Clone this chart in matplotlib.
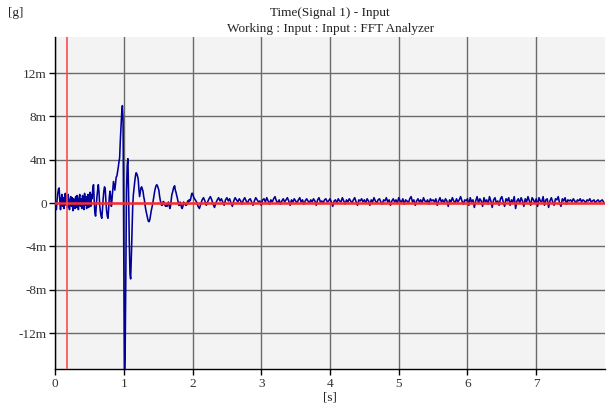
import numpy as np
import matplotlib
matplotlib.use("Agg")
import matplotlib.pyplot as plt
from matplotlib.ticker import FuncFormatter

plt.rcParams['font.family'] = ['Liberation Serif', 'DejaVu Serif']
plt.rcParams['axes.unicode_minus'] = False

title1 = "Time(Signal 1) - Input"
title2 = "Working : Input : Input : FFT Analyzer"
y_unit = "[g]"
x_unit = "[s]"

# signal in milli-g, 0.00 .. 1.99 s sampled every 0.01 s
g_early = [
    0.5, -0.4, -0.6, 0.3, 0.9, 1.3, 1.4, 0.2, -0.6, 0.4,
    0.8, -0.3, 0.5, -0.5, 0.6, 0.9, -0.2, 0.7, -0.4, 0.8,
    0.3, -0.6, 0.2, 0.6, -0.3, 0.5, -0.7, 0.4, 0.2, -0.5,
    0.6, -0.4, 0.7, 0.1, -0.6, 0.5, 0.8, -0.3, 0.4, -0.5,
    0.7, 0.2, -0.6, 0.9, -0.2, 0.6, -0.5, 0.3, 0.8, -0.4,
    0.5, 1.0, -0.3, 0.8, 0.4, 1.4, 1.7, 0.2, -0.9, -1.2,
    -0.3, 0.6, 1.2, 1.7, 1.0, -0.2, -0.8, -1.2, -1.4, -0.6,
    0.4, 1.1, 1.5, 1.3, 0.2, -0.7, -1.2, -1.4, -0.5, 0.6,
    1.1, 0.6, -0.3, 0.4, 1.2, 2.0, 1.6, 1.2, 1.8, 2.4,
    2.5, 2.9, 3.3, 3.8, 4.2, 5.8, 7.0, 8.3, 9.0, 7.5,
    -4.0, -16.5, -14.0, -6.0, 1.0, 3.5, 4.1, 1.0, -3.5, -6.5,
    -7.0, -5.0, -2.5, -0.3, 0.8, 1.4, 2.0, 2.5, 2.8, 2.7,
    2.5, 2.2, 1.3, 0.6, 1.0, 1.4, 1.5, 1.3, 1.1, 0.6,
    0.3, -0.2, -0.6, -0.9, -1.2, -1.5, -1.7, -1.7, -1.5, -1.1,
    -0.7, -0.4, -0.1, 0.3, 0.7, 1.1, 1.4, 1.6, 1.7, 1.6,
    1.4, 1.2, 0.7, 0.3, 0.0, -0.2, -0.2, 0.1, 0.15, -0.1,
    -0.2, -0.3, -0.2, -0.3, -0.1, 0.1, -0.2, -0.5, -0.3, 0.3,
    0.8, 1.0, 1.3, 1.5, 1.6, 1.2, 1.0, 0.7, 0.45, 0.1,
    -0.2, -0.2, 0.1, -0.1, -0.4, -0.5, -0.3, 0.1, 0.0, -0.1,
    -0.2, -0.2, -0.1, 0.2, 0.1, 0.3, 0.2, 0.3, 0.6, 0.9,
]

# signal in milli-g, 2.00 .. 7.98 s sampled every 0.02 s
g_tail = [
    0.9, 0.5, 0.3, 0.1, -0.3, -0.5, -0.1, 0.3, 0.5, 0.2, -0.2, 0.1, 0.4, 0.6, 0.3, -0.1, -0.4, 0.0, 0.3, 0.5, 0.2, 0.4, 0.1, -0.2, 0.3,
    0.5, 0.2, 0.4, 0.0, -0.3, 0.2, 0.5, 0.3, 0.1, 0.4, 0.2, -0.1, 0.3, 0.5, 0.2, 0.0, 0.3, 0.4, 0.1, -0.2, 0.2, 0.5, 0.3, 0.1, 0.2,
    -0.2, 0.3, 0.4, 0.1, 0.5, 0.2, -0.1, 0.3, 0.1, 0.4, 0.6, 0.2, 0.0, 0.3, -0.1, 0.2, 0.4, 0.1, 0.3, 0.5, 0.2, -0.2, 0.3, 0.1, 0.4,
    0.2, 0.0, 0.3, 0.5, 0.1, 0.3, -0.1, 0.2, 0.4, 0.2, 0.0, 0.3, 0.1, 0.4, 0.2, -0.2, 0.3, 0.5, 0.1, 0.2, 0.0, 0.3, 0.4, 0.1, 0.2,
    0.4, 0.1, -0.3, 0.2, 0.3, 0.0, 0.4, 0.2, 0.1, 0.5, 0.2, -0.1, 0.3, 0.1, 0.4, 0.2, 0.0, 0.3, 0.5, 0.1, -0.2, 0.3, 0.2, 0.4, 0.1,
    0.3, 0.0, 0.4, 0.2, -0.2, 0.3, 0.1, 0.5, 0.2, 0.0, 0.3, 0.4, 0.1, -0.1, 0.3, 0.2, 0.5, 0.1, 0.3, -0.2, 0.2, 0.4, 0.1, 0.3, 0.0,
    0.5, 0.2, 0.1, 0.4, -0.1, 0.3, 0.2, 0.0, 0.4, 0.6, 0.1, 0.3, -0.2, 0.2, 0.4, 0.1, 0.3, 0.0, 0.5, 0.2, 0.1, 0.3, -0.1, 0.4, 0.2,
    0.3, 0.1, 0.4, -0.2, 0.2, 0.5, 0.1, 0.3, 0.0, 0.4, 0.2, -0.3, 0.3, 0.1, 0.5, 0.2, 0.0, 0.4, 0.1, 0.3, 0.6, 0.2, -0.1, 0.3, 0.2,
    0.4, -0.2, 0.5, 0.1, 0.3, -0.4, 0.2, 0.6, 0.0, 0.4, 0.2, -0.3, 0.5, 0.1, 0.3, -0.1, 0.6, 0.2, -0.4, 0.3, 0.5, 0.0, 0.2, -0.2, 0.4,
    0.6, 0.1, -0.3, 0.4, 0.2, 0.5, -0.2, 0.3, 0.1, 0.6, -0.5, 0.2, 0.4, 0.0, 0.5, 0.2, -0.3, 0.4, 0.1, 0.6, 0.2, -0.2, 0.5, 0.3, 0.0,
    0.4, -0.3, 0.5, 0.2, 0.1, 0.6, -0.2, 0.3, 0.4, -0.4, 0.2, 0.5, 0.1, -0.2, 0.4, 0.3, 0.6, 0.0, -0.3, 0.4, 0.2, 0.5, -0.1, 0.3, 0.2,
    0.3, 0.1, 0.4, 0.2, 0.0, 0.3, 0.2, 0.4, 0.1, 0.3, 0.2, 0.0, 0.3, 0.2, 0.4, 0.1, 0.2, 0.3, 0.0, 0.2, 0.3, 0.1, 0.2, 0.3, 0.1,
]

cursor_t = 0.18
y_ticks = [-12, -8, -4, 0, 4, 8, 12]
x_ticks = [0, 1, 2, 3, 4, 5, 6, 7]

t_early = np.arange(len(g_early)) * 0.01
t_tail = 2.0 + np.arange(len(g_tail)) * 0.02
t = np.concatenate([t_early, t_tail])
g = np.concatenate([g_early, g_tail])

fig = plt.figure(figsize=(6.08, 4.05), dpi=100)
ax = fig.add_axes([0.0905, 0.088, 0.9045, 0.821])
ax.set_facecolor('#f3f3f3')

ax.plot(t, g, color='#00009a', lw=1.15, zorder=3)
ax.axhline(0, color='#ff2a2a', lw=1.8, zorder=4)
ax.axvline(cursor_t, color='#ff4a4a', lw=1.2, zorder=4)

ax.set_xlim(0, 8.0)
ax.set_ylim(-15.35, 15.35)
ax.set_xticks(x_ticks)
ax.set_yticks(y_ticks)
ax.yaxis.set_major_formatter(FuncFormatter(lambda v, p: "0" if v == 0 else "%dm" % v))
ax.grid(True, color='#6a6a6a', lw=1.0, zorder=1)
ax.set_axisbelow(True)

for s in ['top', 'right']:
    ax.spines[s].set_visible(False)
for s in ['left', 'bottom']:
    ax.spines[s].set_color('black')
    ax.spines[s].set_linewidth(1.0)
ax.tick_params(direction='out', length=4, width=1, pad=2, colors='black', labelsize=9.5, labelcolor='#333333')

fig.text(0.543, 0.968, title1, ha='center', va='center', fontsize=9.5, color='#222222')
fig.text(0.543, 0.928, title2, ha='center', va='center', fontsize=9.5, color='#222222')
fig.text(0.025, 0.968, y_unit, ha='center', va='center', fontsize=9.5, color='#222222')
fig.text(0.543, 0.018, x_unit, ha='center', va='center', fontsize=9.5, color='#222222')

fig.savefig('out.png', dpi=100)
